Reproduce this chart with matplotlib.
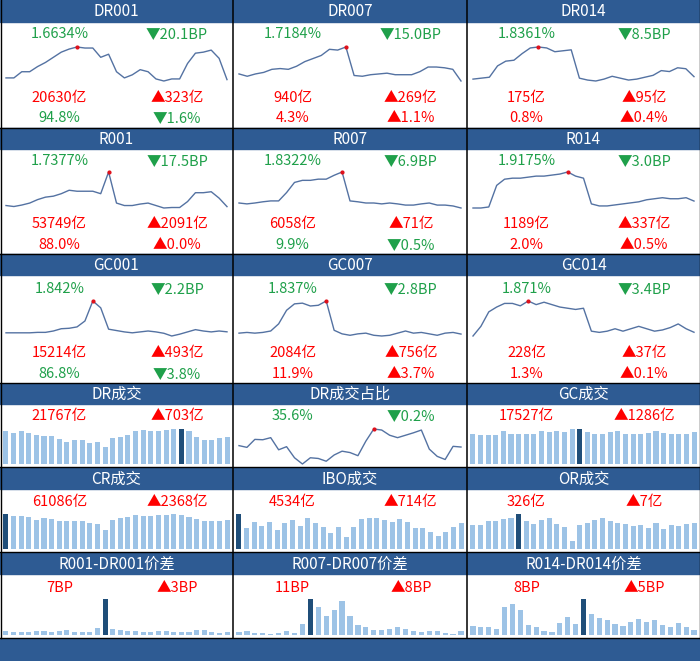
import matplotlib
matplotlib.use('Agg')
import matplotlib.pyplot as plt
from matplotlib.patches import Rectangle

plt.rcParams['font.family'] = ['Noto Sans CJK SC', 'DejaVu Sans']
plt.rcParams['font.weight'] = 'medium'

# ---- 数据 ----
titles = [['DR001', 'DR007', 'DR014'],
          ['R001', 'R007', 'R014'],
          ['GC001', 'GC007', 'GC014'],
          ['DR成交', 'DR成交占比', 'GC成交'],
          ['CR成交', 'IBO成交', 'OR成交'],
          ['R001-DR001价差', 'R007-DR007价差', 'R014-DR014价差']]

# 利率走势 (%)
dr001_line = [1.68, 1.68, 1.74, 1.74, 1.79, 1.83, 1.88, 1.93, 1.96, 1.98, 1.97, 1.97, 1.88, 1.91, 1.74,
              1.68, 1.71, 1.76, 1.74, 1.67, 1.65, 1.67, 1.67, 1.82, 1.92, 1.93, 1.95, 1.87, 1.6634]
dr007_line = [1.81, 1.78, 1.81, 1.83, 1.87, 1.88, 1.87, 1.91, 1.97, 2.01, 2.05, 2.13, 2.12, 2.16,
              1.79, 1.78, 1.80, 1.81, 1.82, 1.80, 1.80, 1.80, 1.84, 1.90, 1.90, 1.89, 1.87, 1.7184]
dr014_line = [1.81, 1.82, 1.83, 1.95, 2.00, 2.01, 2.08, 2.14, 2.15, 2.14, 2.10, 2.11, 2.12, 1.82,
              1.80, 1.79, 1.81, 1.84, 1.82, 1.80, 1.81, 1.83, 1.85, 1.90, 1.89, 1.93, 1.92, 1.8361]
r001_line = [1.76, 1.74, 1.77, 1.81, 1.88, 1.93, 1.95, 2.00, 2.07, 2.05, 2.05, 2.05, 2.00, 2.44, 1.81,
             1.76, 1.76, 1.79, 1.81, 1.76, 1.71, 1.72, 1.72, 1.84, 2.02, 2.02, 2.04, 1.91, 1.7377]
r007_line = [2.00, 1.97, 2.00, 2.04, 2.07, 2.07, 2.35, 2.69, 2.76, 2.76, 2.80, 2.80, 2.93, 3.04, 2.07,
             2.04, 2.00, 2.00, 1.97, 2.00, 1.97, 1.93, 1.93, 1.97, 2.00, 1.93, 1.93, 1.90, 1.8322]
r014_line = [1.85, 1.85, 1.86, 2.07, 2.13, 2.14, 2.14, 2.15, 2.16, 2.16, 2.17, 2.18, 2.20, 2.16, 2.14,
             1.89, 1.87, 1.87, 1.88, 1.89, 1.90, 1.91, 1.93, 1.94, 1.95, 1.94, 1.94, 1.95, 1.9175]
gc001_line = [1.82, 1.82, 1.82, 1.82, 1.83, 1.83, 1.86, 1.91, 1.92, 1.95, 2.08, 2.52, 2.37, 1.90, 1.87,
              1.84, 1.82, 1.84, 1.86, 1.84, 1.81, 1.75, 1.79, 1.84, 1.89, 1.86, 1.84, 1.86, 1.842]
gc007_line = [1.85, 1.86, 1.85, 1.86, 1.88, 1.98, 2.17, 2.26, 2.27, 2.23, 2.24, 2.30, 1.89, 1.84, 1.82,
              1.84, 1.85, 1.82, 1.81, 1.82, 1.85, 1.88, 1.85, 1.86, 1.84, 1.82, 1.85, 1.86, 1.837]
gc014_line = [1.84, 1.92, 2.04, 2.08, 2.11, 2.11, 2.09, 2.13, 2.10, 2.12, 2.10, 2.08, 2.07, 2.06, 2.07,
              1.88, 1.87, 1.88, 1.90, 1.88, 1.90, 1.92, 1.90, 1.88, 1.89, 1.91, 1.94, 1.90, 1.871]

# 9个利率品种: 最新利率(%), 变动(BP), 成交量(亿), 变动(亿), 占比(%), 变动(%)
rate_now = [1.6634, 1.7184, 1.8361, 1.7377, 1.8322, 1.9175, 1.842, 1.837, 1.871]
rate_chg = [-20.1, -15.0, -8.5, -17.5, -6.9, -3.0, -2.2, -2.8, -3.4]
vol_now = [20630, 940, 175, 53749, 6058, 1189, 15214, 2084, 228]
vol_chg = [323, 269, 95, 2091, 71, 337, 493, 756, 37]
share_now = [94.8, 4.3, 0.8, 88.0, 9.9, 2.0, 86.8, 11.9, 1.3]
share_chg = [-1.6, 1.1, 0.4, 0.0, -0.5, 0.5, -3.8, 3.7, 0.1]

# 成交量 (亿)
dr_vol = [26280, 24960, 26280, 24960, 23630, 22300, 22300, 20180, 17520, 19120, 19120, 16990, 17790, 13810,
          20970, 21770, 23630, 26550, 27610, 27080, 27080, 27610, 28140, 28300, 26550, 21770, 19650, 19120,
          21064, 21767]
dr_share = [36.0, 35.5, 37.8, 37.7, 38.3, 34.8, 35.7, 32.5, 30.7, 32.5, 32.3, 31.5, 33.3, 34.4, 34.0,
            33.1, 37.3, 40.8, 40.5, 39.0, 38.3, 39.0, 39.7, 40.5, 35.0, 32.9, 32.0, 35.8, 35.6]
gc_vol = [16260, 15720, 15720, 15720, 18070, 16620, 16260, 16260, 16620, 18070, 17530, 18070, 17530, 18970,
          19150, 17530, 16620, 16260, 17530, 18070, 16620, 16620, 16260, 17170, 18070, 17170, 16620, 16620,
          16241, 17527]
cr_vol = [72870, 69400, 68010, 65930, 61070, 64540, 62460, 58990, 57600, 57600, 57600, 54130, 52050, 40250,
          61070, 64540, 65930, 71480, 68010, 68010, 70090, 71480, 72180, 71480, 65930, 63150, 58990, 57600,
          58718, 61086]
ibo_vol = [6090, 3650, 4700, 4000, 4700, 3310, 4520, 5050, 4000, 5390, 4520, 3830, 2780, 3830, 2090,
           3830, 5220, 5390, 5390, 5050, 4700, 5220, 4700, 3650, 3650, 2960, 2260, 2960, 3820, 4534]
or_vol = [305, 305, 347, 347, 376, 389, 439, 347, 318, 360, 389, 318, 276, 105, 305, 326, 368, 389, 347,
          326, 318, 284, 305, 263, 326, 255, 297, 284, 319, 326]

# 价差 (BP)
spread_1d = [8, 7, 7, 7, 8, 8, 7, 8, 10, 6, 6, 6, 14, 75, 12, 10, 8, 8, 6, 6, 8, 8, 7, 7, 7, 10, 10, 7, 4, 7]
spread_7d = [9, 11, 5, 5, 2, 6, 13, 5, 33, 107, 83, 57, 75, 102, 57, 30, 23, 15, 15, 18, 23, 18, 13, 8,
             11, 13, 7, 3, 11]
spread_14d = [14, 12, 12, 9, 44, 48, 39, 16, 12, 7, 4, 19, 28, 17, 56, 33, 27, 24, 17, 14, 21, 25, 21, 24,
              16, 13, 19, 12, 8]

# 下面三行的摘要: 数值, 变动, 单位
sum_now = [21767, 35.6, 17527, 61086, 4534, 326, 7, 11, 8]
sum_chg = [703, -0.2, 1286, 2368, 714, 7, 3, 8, 5]
sum_unit = ['亿', '%', '亿', '亿', '亿', '亿', 'BP', 'BP', 'BP']

# ---- 样式 ----
BLUE = '#2E5B93'
LINE = '#5472A2'
BAR = '#9DC3E6'
BAR_DARK = '#1F4E79'
RED = '#FF0000'
GREEN = '#1FA04A'

W, H = 700, 661
col_x = [0, 233, 467, 700]
# (表头上沿, 表头下沿, 内容下沿)
rows = [(0, 22, 127), (128, 149, 253), (254, 275, 382),
        (384, 404, 466), (468, 489, 551), (553, 574, 637)]
# 利率行: 顶部文字, 折线上沿, 折线下沿, 文字1, 文字2
rate_y = [(34, 47, 81, 98, 118), (161, 172, 208, 224, 245), (289, 301, 336, 353, 374)]
# 下面三行: 文字, 图上沿, 图下沿
low_y = [(416, 429, 464), (502, 514, 549), (588, 599, 635)]

fig = plt.figure(figsize=(W / 100, H / 100), dpi=100)
bg = fig.add_axes([0, 0, 1, 1])
bg.set_xlim(0, W)
bg.set_ylim(H, 0)
bg.axis('off')


def sub_ax(x0, y0, x1, y1):
    ax = fig.add_axes([x0 / W, 1 - y1 / H, (x1 - x0) / W, (y1 - y0) / H])
    ax.axis('off')
    return ax


def arrow(v, fmt, unit):
    mark = '▲' if v >= 0 else '▼'
    return mark + fmt.format(abs(v)) + unit


def color(v):
    return RED if v >= 0 else GREEN


def spark(ax, vals):
    n = len(vals)
    ax.plot(range(n), vals, color=LINE, lw=1.0, clip_on=False)
    i = vals.index(max(vals))
    ax.plot(i, vals[i], 'o', color='#E0101A', ms=2.0, clip_on=False, zorder=3)
    ax.set_xlim(0, n - 1)
    ax.set_ylim(min(vals), max(vals))


def bars(ax, vals):
    n = len(vals)
    i = vals.index(max(vals))
    cols = [BAR_DARK if k == i else BAR for k in range(n)]
    ax.bar(range(n), vals, width=0.66, color=cols)
    ax.set_xlim(-0.5, n - 0.5)
    ax.set_ylim(0, max(vals))


# 表头
for r, (ht, hb, cb) in enumerate(rows):
    bg.add_patch(Rectangle((0, ht), W, hb - ht, color=BLUE, zorder=1))
    for c in range(3):
        cx = (col_x[c] + col_x[c + 1]) / 2
        bg.text(cx, (ht + hb) / 2 + 0.5, titles[r][c], color='white', fontsize=11,
                ha='center', va='center', zorder=3)
    bg.plot([0, W], [cb + 0.5, cb + 0.5], color='black', lw=1.0, zorder=2)
bg.add_patch(Rectangle((0, 639), W, H - 639, color=BLUE, zorder=1))
for x in col_x[1:3]:
    bg.plot([x, x], [0, 638], color='black', lw=1.1, zorder=2)
bg.plot([0.5, 0.5], [0, 638], color='black', lw=1.0, zorder=2)
bg.plot([699.5, 699.5], [0, 638], color='black', lw=1.0, zorder=2)

# 利率面板
rate_lines = [dr001_line, dr007_line, dr014_line, r001_line, r007_line, r014_line,
              gc001_line, gc007_line, gc014_line]
for k in range(9):
    r, c = divmod(k, 3)
    cl, cr = col_x[c], col_x[c + 1]
    xl = cl + 0.255 * (cr - cl)
    xr = cl + 0.76 * (cr - cl)
    ty, ltop, lbot, y1, y2 = rate_y[r]
    fs = 10.5
    bg.text(xl, ty, f'{rate_now[k]}%', color=color(rate_chg[k]), fontsize=fs, ha='center', va='center')
    bg.text(xr, ty, arrow(rate_chg[k], '{:.1f}', 'BP'), color=color(rate_chg[k]), fontsize=fs,
            ha='center', va='center')
    bg.text(xl, y1, f'{vol_now[k]}亿', color=color(vol_chg[k]), fontsize=fs, ha='center', va='center')
    bg.text(xr, y1, arrow(vol_chg[k], '{}', '亿'), color=color(vol_chg[k]), fontsize=fs,
            ha='center', va='center')
    bg.text(xl, y2, f'{share_now[k]:.1f}%', color=color(share_chg[k]), fontsize=fs,
            ha='center', va='center')
    bg.text(xr, y2, arrow(share_chg[k], '{:.1f}', '%'), color=color(share_chg[k]), fontsize=fs,
            ha='center', va='center')
    ax = sub_ax(cl + 6, ltop, cr - 6, lbot)
    spark(ax, rate_lines[k])

# 成交量与价差面板
low_series = [dr_vol, dr_share, gc_vol, cr_vol, ibo_vol, or_vol, spread_1d, spread_7d, spread_14d]
for k in range(9):
    r, c = divmod(k, 3)
    cl, cr = col_x[c], col_x[c + 1]
    xl = cl + 0.255 * (cr - cl)
    xr = cl + 0.76 * (cr - cl)
    ty, top, bot = low_y[r]
    unit = sum_unit[k]
    fmt = '{:.1f}' if unit == '%' else '{}'
    bg.text(xl, ty, fmt.format(sum_now[k]) + unit, color=color(sum_chg[k]), fontsize=10.5,
            ha='center', va='center')
    bg.text(xr, ty, arrow(sum_chg[k], fmt, unit), color=color(sum_chg[k]), fontsize=10.5,
            ha='center', va='center')
    if k == 1:
        ax = sub_ax(cl + 6, top, cr - 6, bot)
        spark(ax, low_series[k])
    else:
        ax = sub_ax(cl + 2, top, cr - 2, bot)
        bars(ax, low_series[k])

fig.savefig('out.png', dpi=100)
